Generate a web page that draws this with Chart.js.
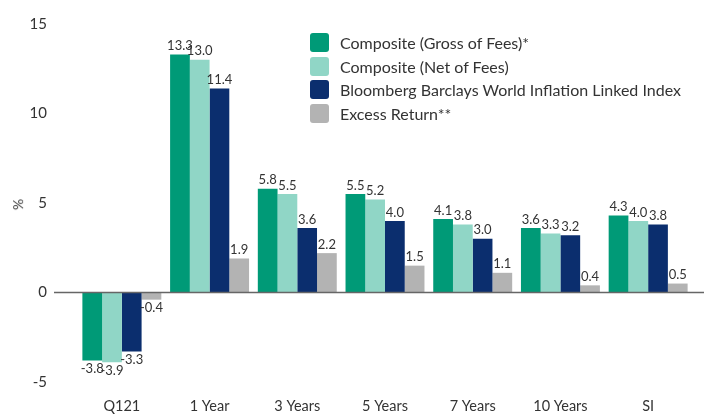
<!DOCTYPE html>
<html>
<head>
<meta charset="utf-8">
<script src="https://cdn.jsdelivr.net/npm/chart.js@4.4.0/dist/chart.umd.min.js"></script>
<style>
  html, body { margin: 0; padding: 0; background: #fff; }
  #wrap { position: relative; width: 704px; height: 414px; font-family: Lato, "Noto Sans", sans-serif; color: #333; }
  #legend { position: absolute; left: 310px; top: 31px; font-size: 16px; }
  #legend div { display: flex; align-items: center; height: 23.5px; }
  #legend span.box { width: 19px; height: 19px; border-radius: 3px; margin-right: 11px; display: inline-block; }
  #ylab { position: absolute; left: 12px; top: 196px; font-size: 14px; transform: rotate(-90deg); }
</style>
</head>
<body>
<div id="wrap">
  <canvas id="chart" width="704" height="414"></canvas>
  <div id="legend"></div>
  <div id="ylab">%</div>
</div>
<script>
// Chart data
const categories = ["Q121", "1 Year", "3 Years", "5 Years", "7 Years", "10 Years", "SI"];
const seriesNames = ["Composite (Gross of Fees)*", "Composite (Net of Fees)", "Bloomberg Barclays World Inflation Linked Index", "Excess Return**"];
const grossValues = [-3.8, 13.3, 5.8, 5.5, 4.1, 3.6, 4.3];
const netValues = [-3.9, 13.0, 5.5, 5.2, 3.8, 3.3, 4.0];
const indexValues = [-3.3, 11.4, 3.6, 4.0, 3.0, 3.2, 3.8];
const excessValues = [-0.4, 1.9, 2.2, 1.5, 1.1, 0.4, 0.5];
const yTicks = [-5, 0, 5, 10, 15];

const colors = ['#009A77', '#90D6C6', '#0B2E6E', '#B3B3B3'];
const fontFamily = 'Lato, "Noto Sans", sans-serif';

// Build HTML legend
const legendEl = document.getElementById('legend');
seriesNames.forEach((name, i) => {
  const row = document.createElement('div');
  row.innerHTML = `<span class="box" style="background:${colors[i]}"></span>${name}`;
  legendEl.appendChild(row);
});

// Value labels above / below bars
const valueLabels = {
  id: 'valueLabels',
  afterDatasetsDraw(chart) {
    const ctx = chart.ctx;
    ctx.save();
    ctx.font = '13px ' + fontFamily;
    ctx.fillStyle = '#333';
    ctx.textAlign = 'center';
    chart.data.datasets.forEach((ds, i) => {
      chart.getDatasetMeta(i).data.forEach((bar, j) => {
        const v = ds.data[j];
        if (v >= 0) {
          ctx.textBaseline = 'bottom';
          ctx.fillText(v.toFixed(1), bar.x, bar.y - 2);
        } else {
          ctx.textBaseline = 'top';
          ctx.fillText(v.toFixed(1), bar.x, bar.y + 2);
        }
      });
    });
    ctx.restore();
  }
};

// Zero line spanning past the category area
const zeroLine = {
  id: 'zeroLine',
  afterDatasetsDraw(chart) {
    const ctx = chart.ctx;
    const y = chart.scales.y.getPixelForValue(0);
    ctx.save();
    ctx.strokeStyle = '#666';
    ctx.lineWidth = 1.5;
    ctx.beginPath();
    ctx.moveTo(54, y);
    ctx.lineTo(704, y);
    ctx.stroke();
    ctx.restore();
  }
};

new Chart(document.getElementById('chart'), {
  type: 'bar',
  data: {
    labels: categories,
    datasets: [grossValues, netValues, indexValues, excessValues].map((vals, i) => ({
      label: seriesNames[i],
      data: vals,
      backgroundColor: colors[i],
      borderWidth: 0,
      barPercentage: 1,
      categoryPercentage: 0.9
    }))
  },
  options: {
    responsive: false,
    animation: false,
    layout: { padding: { top: 24, right: 12, left: 0, bottom: 0 } },
    plugins: {
      legend: { display: false },
      tooltip: { enabled: false }
    },
    scales: {
      x: {
        grid: { display: false, drawTicks: false },
        border: { display: false },
        ticks: { color: '#333', font: { family: fontFamily, size: 14.5 }, padding: 16 },
        afterFit(scale) { scale.height = 32; }
      },
      y: {
        min: -5,
        max: 15,
        grid: { display: false, drawTicks: false },
        border: { display: false },
        afterBuildTicks(scale) { scale.ticks = yTicks.map(v => ({ value: v })); },
        ticks: { color: '#333', font: { family: fontFamily, size: 15 }, padding: 31 },
        afterFit(scale) {
          // keep the label gap from also padding the chart area vertically
          scale.width = 78;
          scale.paddingTop = 9;
          scale.paddingBottom = 9;
        }
      }
    }
  },
  plugins: [valueLabels, zeroLine]
});
</script>
</body>
</html>
